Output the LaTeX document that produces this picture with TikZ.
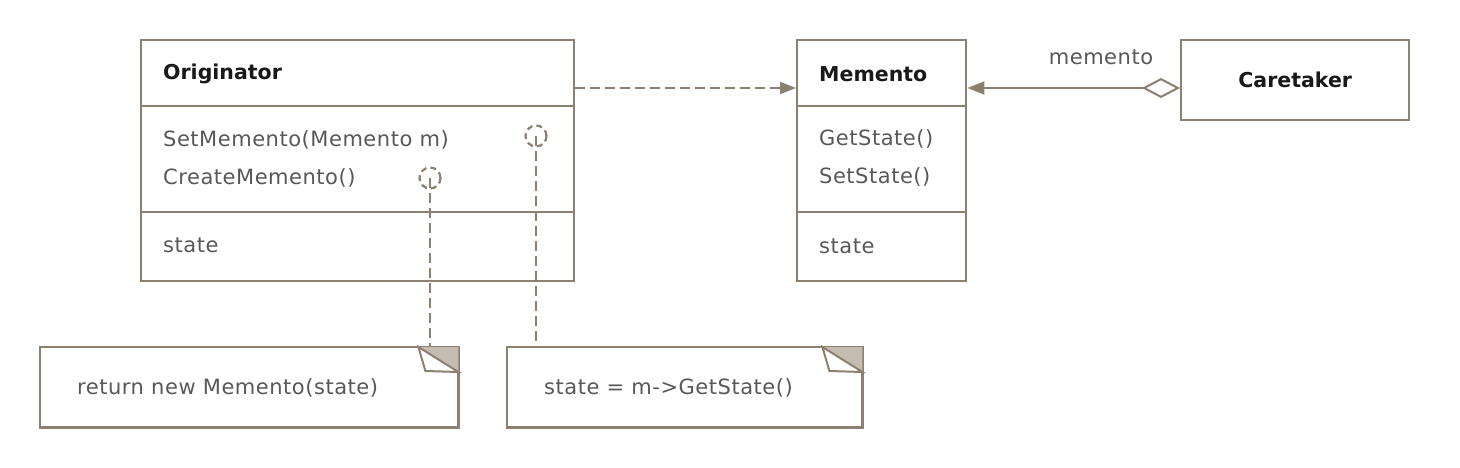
\documentclass[tikz,border=0pt]{standalone}
\usepackage{fontspec}
\setmainfont{DejaVu Sans}
\newfontfamily\lblfont[LetterSpace=2.5]{DejaVu Sans}
\usetikzlibrary{arrows.meta,calc}
\definecolor{edge}{RGB}{140,128,112}
\definecolor{txtc}{RGB}{88,88,88}
\definecolor{ttlc}{RGB}{25,25,25}
\definecolor{foldc}{RGB}{196,188,176}
\begin{document}
\begin{tikzpicture}[x=1pt,y=-1pt,
  box/.style={draw=edge,line width=2.4pt,inner sep=0pt,anchor=north west},
  notebox/.style={inner sep=0pt,anchor=north west},
  divider/.style={draw=edge,line width=2.8pt},
  lbl/.style={anchor=west,inner sep=0pt,text=txtc,font=\lblfont\fontsize{21}{25}\selectfont},
  ttl/.style={anchor=west,inner sep=0pt,text=ttlc,font=\fontsize{20.5}{25}\selectfont\bfseries},
  conn/.style={draw=edge,line width=2pt},
  dashline/.style={conn,dash pattern=on 10pt off 5pt},
  port/.style={circle,draw=edge,line width=2.2pt,dash pattern=on 6pt off 4pt,minimum size=21pt,inner sep=0pt}]
\useasboundingbox (0,0) rectangle (1460,468);
% levels
\coordinate (d1) at (0,106);
\coordinate (d2) at (0,212);
\coordinate (lvl) at (0,88);
% Originator
\node[box,minimum width=433pt,minimum height=241pt] (orig) at (140,39) {};
\draw[divider] (orig.west |- d1) -- (orig.east |- d1);
\draw[divider] (orig.west |- d2) -- (orig.east |- d2);
\node[ttl] (otitle) at (163,74) {Originator};
\node[lbl] (oset) at (163,140) {SetMemento(Memento m)};
\node[lbl] (ocreate) at (163,178) {CreateMemento()};
\node[lbl] (ostate) at (163,245) {state};
% Memento
\node[box,minimum width=169pt,minimum height=241pt] (mem) at (796,39) {};
\draw[divider] (mem.west |- d1) -- (mem.east |- d1);
\draw[divider] (mem.west |- d2) -- (mem.east |- d2);
\node[ttl] (mtitle) at (819,74) {Memento};
\node[lbl] (mget) at (819,139) {GetState()};
\node[lbl] (mset) at (819,177) {SetState()};
\node[lbl] (mstate) at (819,246) {state};
% Caretaker
\node[box,minimum width=228pt,minimum height=80pt] (car) at (1180,39) {};
\node[ttl,anchor=center] (ctitle) at (car.center) {Caretaker};
% connectors
\draw[dashline,-{Triangle[length=16pt,width=12pt]}] (orig.east |- lvl) -- (mem.west |- lvl);
\draw[conn,{Triangle[length=17pt,width=13pt]}-{Diamond[open,length=38pt,width=20pt,fill=white]}] (mem.east |- lvl) -- (car.west |- lvl);
\node[lbl,anchor=center] (mlabel) at (1101,57) {memento};
% notes
\node[notebox,minimum width=418pt,minimum height=80pt] (n1) at (40,347) {};
\node[notebox,minimum width=355pt,minimum height=80pt] (n2) at (507,347) {};
\foreach \n in {n1,n2}{
  \draw[draw=edge,line width=2.4pt] (\n.north west) rectangle (\n.south east);
  \fill[foldc] ($(\n.north east)+(-40,0)$) -- (\n.north east) -- ($(\n.north east)+(0,25)$) -- cycle;
  \draw[draw=edge,line width=2pt,fill=white,line join=miter] ($(\n.north east)+(-40,0)$) -- ($(\n.north east)+(-33,24)$) -- ($(\n.north east)+(0,25)$) -- cycle;
}
\node[lbl] (n1text) at (77,388) {return new Memento(state)};
\node[lbl] (n2text) at (544,388) {state = m->GetState()};
% ports and note links
\node[port] (p1) at (430,178) {};
\node[port] (p2) at (536,136) {};
\draw[dashline] (p1.center) -- (n1.north -| p1.center);
\draw[dashline] (p2.center) -- (n2.north -| p2.center);
\end{tikzpicture}
\end{document}
